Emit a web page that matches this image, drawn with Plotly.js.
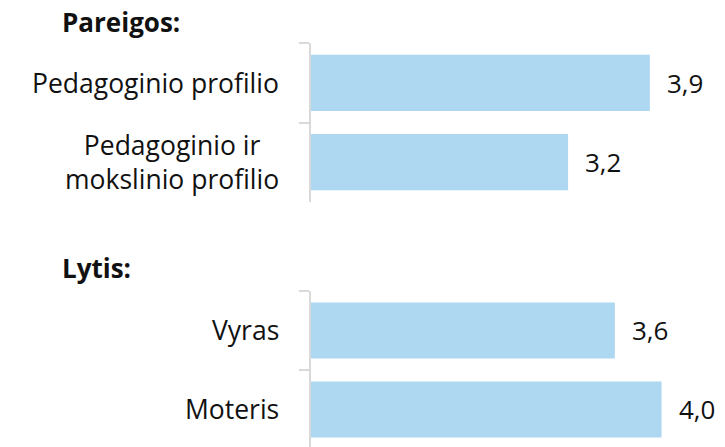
<!DOCTYPE html>
<html>
<head>
<meta charset="utf-8">
<script src="https://cdn.plot.ly/plotly-3.0.1.min.js"></script>
<style>html,body{margin:0;padding:0;background:#fff;}#chart{width:725px;height:447px;}</style>
</head>
<body>
<div id="chart"></div>
<script>
// Data
var groupTitles = ["Pareigos:", "Lytis:"];
var cats1 = ["Pedagoginio profilio", "Pedagoginio ir mokslinio profilio"];
var labels1 = ["Pedagoginio profilio", "Pedagoginio ir<br>mokslinio profilio"];
var vals1 = [3.9, 3.2];
var cats2 = ["Vyras", "Moteris"];
var labels2 = ["Vyras", "Moteris"];
var vals2 = [3.6, 4.0];

function fmt(v){ return v.toFixed(1).replace('.', ','); }

var FONT = "'Open Sans', sans-serif";
var FS = 26.5;
var FSV = 26;
var barColor = "#aed8f2";
var axisGray = "#d9d9d9";

var traces = [
  {type:'bar', orientation:'h', x:vals1, y:cats1, xaxis:'x', yaxis:'y',
   marker:{color:barColor}, hoverinfo:'skip'},
  {type:'bar', orientation:'h', x:vals2, y:cats2, xaxis:'x', yaxis:'y2',
   marker:{color:barColor}, hoverinfo:'skip'}
];

var annotations = [];
function addGroup(cats, labels, vals, yref){
  for (var i=0;i<cats.length;i++){
    annotations.push({xref:'paper', yref:yref, x:-0.074, y:cats[i], xanchor:'right', yanchor:'middle',
      text:labels[i], align:'center', showarrow:false, font:{family:FONT, size:FS, color:'#111'}});
    annotations.push({xref:'x', yref:yref, x:vals[i], y:cats[i], xanchor:'left', yanchor:'middle',
      xshift:15, text:fmt(vals[i]), showarrow:false, font:{family:FONT, size:FSV, color:'#111'}});
  }
}
addGroup(cats1, labels1, vals1, 'y');
addGroup(cats2, labels2, vals2, 'y2');
annotations.push({xref:'paper', yref:'paper', x:-0.614, y:0.9508, xanchor:'left', yanchor:'middle',
  text:'<b>'+groupTitles[0]+'</b>', showarrow:false, font:{family:FONT, size:FSV, color:'#111'}});
annotations.push({xref:'paper', yref:'paper', x:-0.614, y:0.4004, xanchor:'left', yanchor:'middle',
  text:'<b>'+groupTitles[1]+'</b>', showarrow:false, font:{family:FONT, size:FSV, color:'#111'}});

var yBase = {type:'category', showline:true, linecolor:axisGray, linewidth:2,
  ticks:'outside', ticklen:10, tickcolor:axisGray, tickwidth:2, tickson:'boundaries',
  showticklabels:false, showgrid:false, zeroline:false, fixedrange:true};

var layout = {
  width:725, height:447,
  margin:{l:311, r:5, t:0, b:0},
  paper_bgcolor:'#fff', plot_bgcolor:'#fff',
  showlegend:false, bargap:0.29,
  xaxis:{range:[1,4.5], visible:false, fixedrange:true},
  yaxis:Object.assign({}, yBase, {domain:[0.5488,0.9031], range:[1.5,-0.5]}),
  yaxis2:Object.assign({}, yBase, {domain:[0,0.349], range:[1.475,-0.5], anchor:'x'}),
  annotations:annotations
};

Plotly.newPlot('chart', traces, layout, {displayModeBar:false, staticPlot:true});
</script>
</body>
</html>
